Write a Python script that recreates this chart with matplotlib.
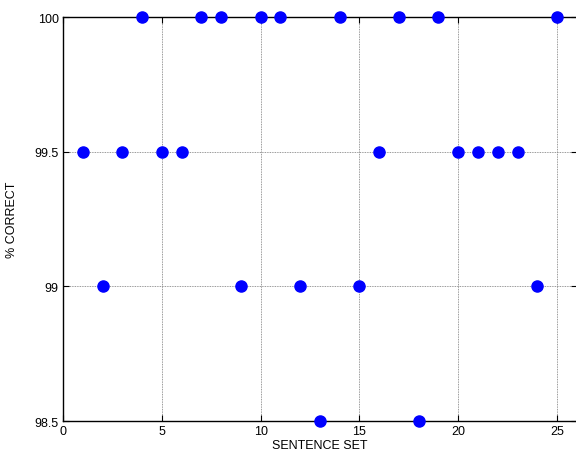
import matplotlib
matplotlib.use("Agg")
import matplotlib.pyplot as plt

sentence_set = list(range(1, 26))
pct_correct = [99.5, 99.0, 99.5, 100, 99.5, 99.5, 100, 100, 99.0, 100,
               100, 99.0, 98.5, 100, 99.0, 99.5, 100, 98.5, 100, 99.5,
               99.5, 99.5, 99.5, 99.0, 100]
x_ticks = [0, 5, 10, 15, 20, 25]
y_ticks = [98.5, 99, 99.5, 100]
y_tick_labels = ["98.5", "99", "99.5", "100"]

plt.rcParams["font.family"] = ["Liberation Sans", "DejaVu Sans"]

fig = plt.figure(figsize=(5.76, 4.64), dpi=100)
ax = fig.add_axes([0.1094, 0.0905, 0.8920, 0.8707])

ax.plot(sentence_set, pct_correct, linestyle="none", marker="o",
        markersize=8, markerfacecolor="#0000ff", markeredgecolor="#0000ff",
        clip_on=False, zorder=3)

ax.set_xlim(0, 26)
ax.set_ylim(98.5, 100)
ax.set_xticks(x_ticks)
ax.set_yticks(y_ticks)
ax.set_yticklabels(y_tick_labels)
ax.tick_params(direction="in", top=True, right=True, length=4, width=0.8,
               labelsize=9, pad=3)
ax.grid(True, color="#777777", linestyle=(0, (1, 1)), linewidth=0.6)
for s in ax.spines.values():
    s.set_linewidth(1.0)

ax.set_xlabel("SENTENCE SET", fontsize=9, labelpad=1)
ax.set_ylabel("% CORRECT", fontsize=9, labelpad=12)

fig.savefig("out.png", dpi=100)
